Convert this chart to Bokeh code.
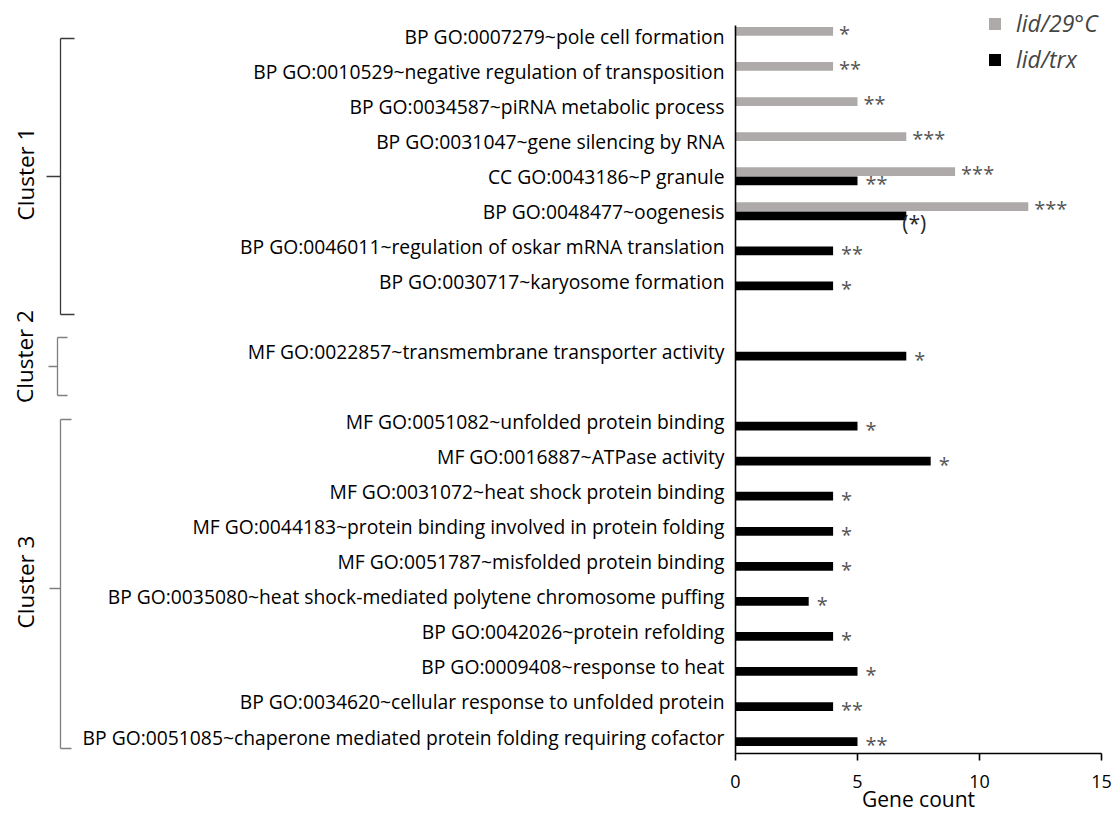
import math
from bokeh.plotting import figure
from bokeh.layouts import row
from bokeh.models import Range1d, FixedTicker, Legend, LegendItem, ColumnDataSource
from bokeh.transform import dodge
from bokeh.core.properties import value
from bokeh.embed import file_html
from bokeh.resources import INLINE

# ---------------- data ----------------
terms = [
    "BP GO:0007279~pole cell formation",
    "BP GO:0010529~negative regulation of transposition",
    "BP GO:0034587~piRNA metabolic process",
    "BP GO:0031047~gene silencing by RNA",
    "CC GO:0043186~P granule",
    "BP GO:0048477~oogenesis",
    "BP GO:0046011~regulation of oskar mRNA translation",
    "BP GO:0030717~karyosome formation",
    "MF GO:0022857~transmembrane transporter activity",
    "MF GO:0051082~unfolded protein binding",
    "MF GO:0016887~ATPase activity",
    "MF GO:0031072~heat shock protein binding",
    "MF GO:0044183~protein binding involved in protein folding",
    "MF GO:0051787~misfolded protein binding",
    "BP GO:0035080~heat shock-mediated polytene chromosome puffing",
    "BP GO:0042026~protein refolding",
    "BP GO:0009408~response to heat",
    "BP GO:0034620~cellular response to unfolded protein",
    "BP GO:0051085~chaperone mediated protein folding requiring cofactor",
]
term_cluster = [1, 1, 1, 1, 1, 1, 1, 1, 2, 3, 3, 3, 3, 3, 3, 3, 3, 3, 3]
cluster_names = ["Cluster 1", "Cluster 2", "Cluster 3"]
series_names = ["lid/29°C", "lid/trx"]
lid29_counts = [4, 4, 5, 7, 9, 12, 0, 0, 0, 0, 0, 0, 0, 0, 0, 0, 0, 0, 0]
lidtrx_counts = [0, 0, 0, 0, 5, 7, 4, 4, 7, 5, 8, 4, 4, 4, 3, 4, 5, 4, 5]
lid29_sig = ["*", "**", "**", "***", "***", "***", "", "", "", "", "", "", "", "", "", "", "", "", ""]
lidtrx_sig = ["", "", "", "", "**", "(*)", "**", "*", "*", "*", "*", "*", "*", "*", "*", "*", "*", "**", "**"]
x_ticks = [0, 5, 10, 15]
x_label = "Gene count"

# ---------------- geometry (pixels of the picture) ----------------
FONT_NAME = "Open Sans"
FONT = value(FONT_NAME)
LEFT_W = 75                           # width of the bracket panel
X0_PX, X_UNIT = 735.5, 24.4           # picture x of value 0, px per gene
SLOT0_PX, SLOT_PX = 35.5, 35.05       # picture y of first row, px per row
FRAME_H = 753
FRAME_W = int(round(15 * X_UNIT))


def dy(py):
    return (py - SLOT0_PX) / SLOT_PX


# row slots: one blank slot between clusters
slots = [i + (c - 1) for i, c in enumerate(term_cluster)]
y_top = dy(0)
y_bottom = y_top + FRAME_H / SLOT_PX
yr = Range1d(y_bottom, y_top)

# ---------------- left panel: cluster brackets ----------------
q = figure(
    frame_width=LEFT_W, frame_height=FRAME_H,
    x_range=Range1d(0, LEFT_W), y_range=yr,
    output_backend="svg", toolbar_location=None, title=None,
    x_axis_location=None, y_axis_location=None,
    min_border_left=0, min_border_top=0, min_border_right=0, min_border_bottom=0,
)
q.grid.visible = False
q.outline_line_color = None

# (vertical x, top y, bottom y, end-tick x, mid-tick start x, mid y, colour) in picture px
BRACKETS = [
    (60, 38, 314, 74, 46, 176, "#3a3a3a"),
    (57, 337, 395, 67, 48, 366, "#7f7f7f"),
    (60, 419, 748, 71, 49, 588, "#7f7f7f"),
]
CLUSTER_LABEL_PX = [(25, 173.5), (24, 356), (25, 581.5)]
for (vx, t, b, ex, mx, my, col), name, (lx, ly) in zip(BRACKETS, cluster_names, CLUSTER_LABEL_PX):
    q.segment(x0=[vx, vx, vx, mx], y0=[dy(t), dy(t), dy(b), dy(my)],
              x1=[vx, ex, ex, vx], y1=[dy(b), dy(t), dy(b), dy(my)],
              line_color=col, line_width=1.3)
    q.text(x=[lx], y=[dy(ly)], text=[name], angle=math.pi / 2, text_font=FONT,
           text_font_size="22.5px", text_color="#000000",
           text_align="center", text_baseline="middle")

# ---------------- main panel: bars ----------------
p = figure(
    frame_width=FRAME_W, frame_height=FRAME_H,
    x_range=Range1d(0, 15), y_range=yr,
    output_backend="svg", toolbar_location=None, title=None,
    min_border_left=int(round(X0_PX - LEFT_W)), min_border_top=0, min_border_right=12,
    min_border_bottom=0,
)
p.grid.visible = False
p.outline_line_color = None

GRAY = "#aeaaaa"
BLACK = "#000000"
BAR_H = 0.25
OFF = 0.13

src = ColumnDataSource(dict(y=slots, a=lid29_counts, b=lidtrx_counts))
r_gray = p.hbar(y=dodge("y", -OFF, range=p.y_range), right="a", left=0, height=BAR_H,
                source=src, fill_color=GRAY, line_color=None)
r_black = p.hbar(y=dodge("y", OFF, range=p.y_range), right="b", left=0, height=BAR_H,
                 source=src, fill_color=BLACK, line_color=None)

# significance marks
for counts, sig, off, dxo, dyo in (
    (lid29_counts, lid29_sig, -OFF, 6, 2),
    (lidtrx_counts, lidtrx_sig, OFF, 8, 3),
):
    xs, ys, ts, xo, yo, fs, cols = [], [], [], [], [], [], []
    for v, s, sl in zip(counts, sig, slots):
        if not s:
            continue
        xs.append(v)
        ys.append(sl + off)
        ts.append(s)
        if s.startswith("("):
            xo.append(-4); yo.append(7); fs.append("21px"); cols.append("#262626")
        else:
            xo.append(dxo); yo.append(dyo); fs.append("20px"); cols.append("#555555")
    p.text(x=xs, y=ys, text=ts, x_offset=xo, y_offset=yo, text_font=FONT,
           text_font_size=fs, text_color=cols, text_align="left", text_baseline="middle")

# y axis: the GO terms
yax = p.yaxis[0]
yax.ticker = FixedTicker(ticks=slots)
yax.major_label_overrides = {s: t for s, t in zip(slots, terms)}
yax.bounds = (dy(25), y_bottom)
yax.axis_line_width = 1.6
yax.axis_line_color = "black"
yax.major_tick_out = 0
yax.major_tick_in = 0
yax.minor_tick_out = 0
yax.minor_tick_in = 0
yax.major_label_standoff = 11
yax.major_label_text_font = FONT_NAME
yax.major_label_text_font_size = "19.3px"
yax.major_label_text_color = "black"

# x axis
ax = p.xaxis[0]
ax.ticker = FixedTicker(ticks=x_ticks)
ax.axis_line_width = 1.6
ax.axis_line_color = "black"
ax.major_tick_line_width = 1.6
ax.major_tick_line_color = "black"
ax.major_tick_out = 7
ax.major_tick_in = 0
ax.minor_tick_out = 0
ax.minor_tick_in = 0
ax.major_label_text_font = FONT_NAME
ax.major_label_text_font_size = "18px"
ax.major_label_text_color = "black"
ax.major_label_standoff = 14
ax.axis_label = x_label
ax.axis_label_text_font = FONT_NAME
ax.axis_label_text_font_style = "normal"
ax.axis_label_text_font_size = "21px"
ax.axis_label_text_color = "black"
ax.axis_label_standoff = -6

legend = Legend(
    items=[LegendItem(label=series_names[0], renderers=[r_gray]),
           LegendItem(label=series_names[1], renderers=[r_black])],
    location=(int(round(988 - X0_PX)), FRAME_H - 75),
    glyph_width=15, glyph_height=15, label_standoff=14,
    label_text_font=FONT_NAME, label_text_font_size="23px", label_text_font_style="italic",
    label_height=24, spacing=4, padding=0, margin=0,
    border_line_color=None, background_fill_alpha=0,
)
p.add_layout(legend)

layout = row(q, p, spacing=0)
open("out.html", "w").write(file_html(layout, INLINE))
